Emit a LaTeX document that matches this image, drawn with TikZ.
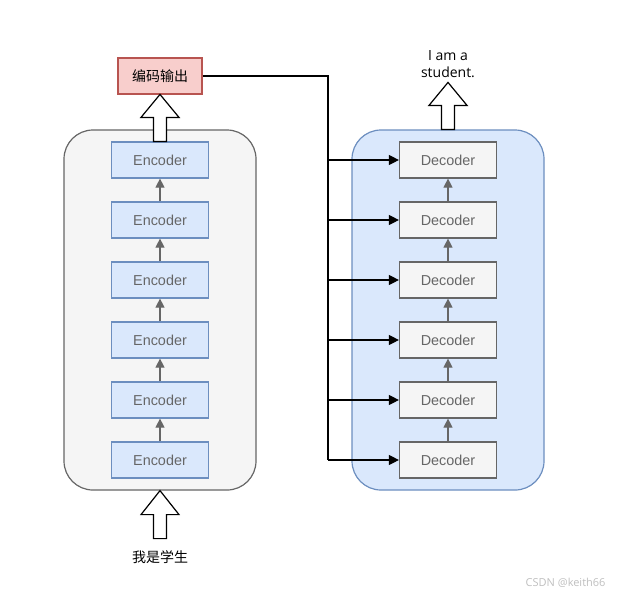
\documentclass[tikz,border=0pt]{standalone}
\usepackage{fontspec}
\setmainfont{Open Sans}
\newfontfamily\boxfont{Liberation Sans}
\newfontfamily\cjk{Noto Sans CJK SC}
\usetikzlibrary{arrows.meta}

\definecolor{encfill}{HTML}{DAE8FC}
\definecolor{encline}{HTML}{6C8EBF}
\definecolor{decfill}{HTML}{F5F5F5}
\definecolor{decline}{HTML}{666666}
\definecolor{outfill}{HTML}{F8CECC}
\definecolor{outdraw}{HTML}{B85450}

\tikzset{
  layer/.style={minimum width=97pt, minimum height=36pt, inner sep=0pt,
    line width=1.2pt, text=decline, font=\boxfont\fontsize{14.4}{17}\selectfont},
  enclayer/.style={layer, draw=encline, fill=encfill},
  declayer/.style={layer, draw=decline, fill=decfill},
  stack/.style={rounded corners=29pt, minimum width=192pt,
    minimum height=360pt, line width=1.2pt},
  flow/.style={-{Triangle[length=9pt,width=9pt]}, draw=decline, line width=1.2pt},
  feed/.style={-{Triangle[length=10pt,width=10pt]}, line width=1.2pt},
  bigarrow/.style={draw, fill=white, line width=1.2pt},
}

\begin{document}
\begin{tikzpicture}
  \useasboundingbox (0pt,0pt) rectangle (617pt,-595pt);

  % the two stacks
  \node[stack, draw=decline, fill=decfill] (encbox) at (160pt,-310pt) {};
  \node[stack, draw=encline, fill=encfill] (decbox) at (448pt,-310pt) {};

  \node[enclayer] (enc1) at (160pt,-460pt) {Encoder};
  \node[enclayer] (enc2) at (160pt,-400pt) {Encoder};
  \node[enclayer] (enc3) at (160pt,-340pt) {Encoder};
  \node[enclayer] (enc4) at (160pt,-280pt) {Encoder};
  \node[enclayer] (enc5) at (160pt,-220pt) {Encoder};
  \node[enclayer] (enc6) at (160pt,-160pt) {Encoder};

  \node[declayer] (dec1) at (448pt,-460pt) {Decoder};
  \node[declayer] (dec2) at (448pt,-400pt) {Decoder};
  \node[declayer] (dec3) at (448pt,-340pt) {Decoder};
  \node[declayer] (dec4) at (448pt,-280pt) {Decoder};
  \node[declayer] (dec5) at (448pt,-220pt) {Decoder};
  \node[declayer] (dec6) at (448pt,-160pt) {Decoder};

  \draw[flow] (enc1) -- (enc2);
  \draw[flow] (enc2) -- (enc3);
  \draw[flow] (enc3) -- (enc4);
  \draw[flow] (enc4) -- (enc5);
  \draw[flow] (enc5) -- (enc6);

  \draw[flow] (dec1) -- (dec2);
  \draw[flow] (dec2) -- (dec3);
  \draw[flow] (dec3) -- (dec4);
  \draw[flow] (dec4) -- (dec5);
  \draw[flow] (dec5) -- (dec6);

  % encoder output and its bus
  \node[draw=outdraw, fill=outfill, minimum width=84pt, minimum height=36pt,
    line width=1.2pt, font=\cjk\fontsize{14}{17}\selectfont] (out) at (160pt,-76pt) {编码输出};
  \coordinate (bus) at (328pt,-76pt);

  \draw[line width=1.6pt] (out.east) -- (bus) -- (bus |- dec1.west);
  \draw[feed] (bus |- dec1.west) -- (dec1.west);
  \draw[feed] (bus |- dec2.west) -- (dec2.west);
  \draw[feed] (bus |- dec3.west) -- (dec3.west);
  \draw[feed] (bus |- dec4.west) -- (dec4.west);
  \draw[feed] (bus |- dec5.west) -- (dec5.west);
  \draw[feed] (bus |- dec6.west) -- (dec6.west);

  % block arrows
  \draw[bigarrow] (enc6.north) +(-6.5pt,0pt) -- +(-6.5pt,24pt) -- +(-19pt,24pt)
    -- +(0pt,47pt) -- +(19pt,24pt) -- +(6.5pt,24pt) -- +(6.5pt,0pt) -- cycle;
  \draw[bigarrow] (decbox.north) +(-6.5pt,0pt) -- +(-6.5pt,24pt) -- +(-19pt,24pt)
    -- +(0pt,47pt) -- +(19pt,24pt) -- +(6.5pt,24pt) -- +(6.5pt,0pt) -- cycle;
  \draw[bigarrow] (encbox.south) +(-6.5pt,-48pt) -- +(-6.5pt,-24pt) -- +(-19pt,-24pt)
    -- +(0pt,0pt) -- +(19pt,-24pt) -- +(6.5pt,-24pt) -- +(6.5pt,-48pt) -- cycle;

  % texts
  \node[align=center, font=\fontsize{14}{17}\selectfont] (result) at (448pt,-64pt) {I am a\\student.};
  \node[font=\cjk\fontsize{14}{17}\selectfont] (source) at (160pt,-557pt) {我是学生};
  \node[anchor=east, text=black!25, font=\fontsize{11}{13}\selectfont] (mark) at (609pt,-583pt) {CSDN @keith66};
\end{tikzpicture}
\end{document}
